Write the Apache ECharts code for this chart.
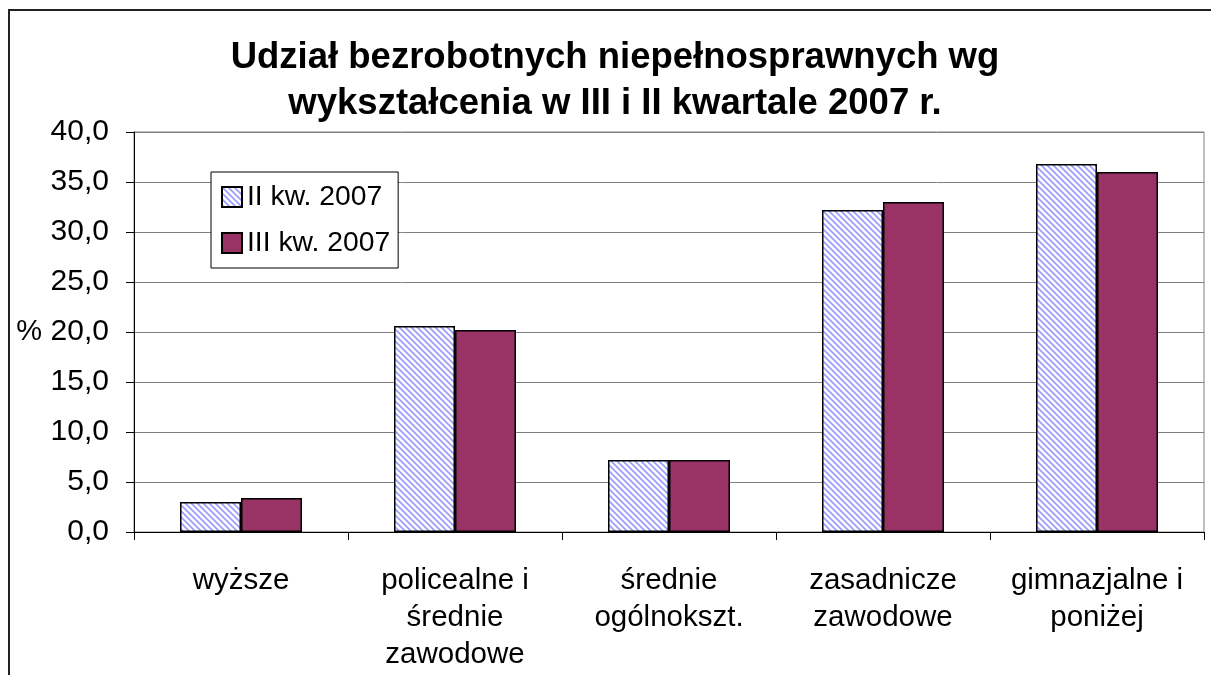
<!DOCTYPE html>
<html>
<head>
<meta charset="utf-8">
<script src="https://cdn.jsdelivr.net/npm/echarts@6/dist/echarts.min.js"></script>
<style>
html,body{margin:0;padding:0;background:#fff;}
#chart{width:1211px;height:675px;}
</style>
</head>
<body>
<div id="chart"></div>
<script>
const titleText = 'Udział bezrobotnych niepełnosprawnych wg\nwykształcenia w III i II kwartale 2007 r.';
const categories = ['wyższe', 'policealne i\nśrednie\nzawodowe', 'średnie\nogólnokszt.', 'zasadnicze\nzawodowe', 'gimnazjalne i\nponiżej'];
const seriesNames = ['II kw. 2007', 'III kw. 2007'];
const q2Values = [3.0, 20.6, 7.2, 32.2, 36.8];
const q3Values = [3.4, 20.2, 7.2, 33.0, 36.0];
const yAxisName = '%';

const FONT = "'Liberation Sans', Arial, sans-serif";

function makeHatch() {
  const s = 6;
  const c = document.createElement('canvas');
  c.width = s; c.height = s;
  const ctx = c.getContext('2d');
  ctx.fillStyle = '#ffffff';
  ctx.fillRect(0, 0, s, s);
  ctx.strokeStyle = '#9999ff';
  ctx.lineWidth = 1.6;
  for (const o of [-s, 0, s]) {
    ctx.beginPath();
    ctx.moveTo(o - 1, -1);
    ctx.lineTo(o + s + 1, s + 1);
    ctx.stroke();
  }
  return c;
}
const hatch = makeHatch();

const chart = echarts.init(document.getElementById('chart'), null, {renderer: 'canvas'});
chart.setOption({
  backgroundColor: '#ffffff',
  animation: false,
  textStyle: {fontFamily: FONT, color: '#000'},
  title: {
    text: titleText,
    left: 615,
    textAlign: 'center',
    top: 35,
    padding: 0,
    textStyle: {fontFamily: FONT, fontSize: 36.5, fontWeight: 'bold', color: '#000', lineHeight: 46}
  },
  graphic: [{
    type: 'rect',
    shape: {x: 9, y: 10, width: 1240, height: 720},
    style: {fill: 'none', stroke: '#222', lineWidth: 2},
    silent: true,
    z: 100
  }],
  legend: {
    orient: 'vertical',
    left: 211,
    top: 172,
    padding: [11, 8, 11, 10],
    itemGap: 18,
    itemWidth: 20,
    itemHeight: 20,
    borderColor: '#000',
    borderWidth: 1,
    backgroundColor: '#fff',
    icon: 'rect',
    textStyle: {fontFamily: FONT, fontSize: 28.3, color: '#000'},
    data: seriesNames
  },
  grid: {
    left: 134, right: 7, top: 132, bottom: 143,
    show: true, borderColor: '#808080', borderWidth: 1, containLabel: false
  },
  xAxis: {
    type: 'category',
    data: categories,
    axisLine: {lineStyle: {color: '#000', width: 1}},
    axisTick: {show: true, length: 8, lineStyle: {color: '#000'}},
    axisLabel: {fontFamily: FONT, fontSize: 29.5, color: '#000', lineHeight: 37, margin: 30, interval: 0}
  },
  yAxis: {
    type: 'value',
    min: 0, max: 40, interval: 5,
    name: yAxisName,
    nameLocation: 'middle',
    nameRotate: 0,
    nameGap: 92,
    nameTextStyle: {fontFamily: FONT, fontSize: 29, color: '#000'},
    axisLine: {show: true, lineStyle: {color: '#000', width: 1}},
    axisTick: {show: true, length: 8, lineStyle: {color: '#000'}},
    axisLabel: {fontFamily: FONT, fontSize: 30, color: '#000', margin: 25,
      formatter: v => v.toFixed(1).replace('.', ',')},
    splitLine: {lineStyle: {color: '#808080', width: 1}}
  },
  series: [
    {
      name: seriesNames[0], type: 'bar', data: q2Values,
      barGap: '0%', barCategoryGap: '43%',
      itemStyle: {color: {image: hatch, repeat: 'repeat'}, borderColor: '#000', borderWidth: 1.5}
    },
    {
      name: seriesNames[1], type: 'bar', data: q3Values,
      barGap: '0%', barCategoryGap: '43%',
      itemStyle: {color: '#993366', borderColor: '#000', borderWidth: 1.5}
    }
  ]
});
</script>
</body>
</html>
